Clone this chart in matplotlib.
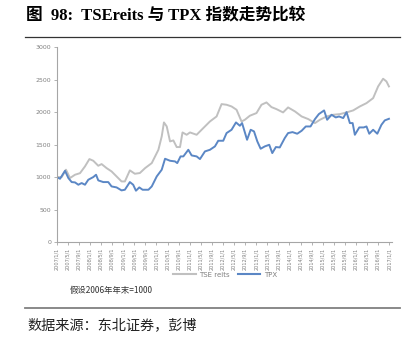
import matplotlib
matplotlib.use("Agg")
import matplotlib.pyplot as plt
from matplotlib.lines import Line2D

# month offsets from 2007/1/1 and index levels (2006 year end = 1000)
tse_month = [0, 1.8, 3.35, 4.8, 6.6, 8.4, 10.2, 11.8, 13.2, 15.0, 16.2, 18.0, 19.8,
             21.6, 23.4, 24.6, 26.4, 28.2, 30.0, 31.9, 34.3, 36.7, 37.9, 38.7, 39.7,
             40.9, 42.1, 43.3, 44.5, 45.4, 46.9, 48.1, 50.5, 52.9, 55.3, 57.7, 59.5,
             61.3, 63.1, 64.9, 66.7, 67.9, 69.7, 72.1, 73.9, 75.7, 77.5, 79.3, 81.7,
             83.5, 86.0, 88.4, 90.8, 93.2, 95.0, 97.4, 99.8, 102.2, 104.6, 107.0,
             109.4, 111.8, 114.2, 116.0, 117.8, 119.0, 119.9]
tse_val = [1000, 1000, 1113, 985, 1036, 1060, 1164, 1277, 1251, 1174, 1200, 1138, 1087,
           1010, 933, 933, 1103, 1051, 1062, 1138, 1215, 1420, 1626, 1841, 1780,
           1549, 1564, 1462, 1462, 1687, 1651, 1687, 1651, 1754, 1856, 1933, 2123,
           2113, 2087, 2036, 1856, 1882, 1944, 1985, 2113, 2149, 2077, 2046, 1995,
           2072, 2010, 1933, 1892, 1831, 1882, 1933, 1959, 1969, 1995, 2026,
           2087, 2138, 2215, 2395, 2513, 2472, 2395]

tpx_month = [0, 1.2, 3.0, 4.2, 5.4, 6.6, 7.8, 9.0, 10.2, 11.4, 13.2, 14.2, 15.0, 16.8,
             18.6, 19.8, 21.6, 23.4, 24.6, 26.4, 27.6, 28.6, 29.8, 31.0, 33.1, 34.3,
             36.1, 37.9, 39.1, 40.9, 42.7, 43.5, 44.7, 45.7, 47.5, 48.7, 50.5, 51.7,
             53.5, 55.3, 57.1, 58.3, 60.1, 61.3, 63.1, 64.7, 66.1, 66.9, 68.7, 70.0,
             71.2, 72.4, 73.6, 75.1, 76.7, 77.8, 79.1, 80.5, 82.3, 83.5, 85.1, 86.8,
             88.4, 89.9, 91.6, 93.2, 94.6, 96.5, 97.6, 99.2, 100.7, 101.9, 103.4,
             104.6, 105.8, 106.8, 107.6, 109.2, 110.8, 111.8, 112.8, 114.2, 115.7,
             117.2, 118.4, 119.9]
tpx_val = [1000, 974, 1097, 985, 923, 918, 882, 908, 882, 959, 1000, 1036, 949, 923,
           923, 856, 841, 795, 805, 923, 882, 790, 841, 805, 805, 856,
           1010, 1113, 1282, 1251, 1241, 1215, 1318, 1318, 1420, 1333, 1318, 1277,
           1395, 1420, 1472, 1559, 1559, 1677, 1728, 1841, 1790, 1831, 1574, 1728,
           1703, 1549, 1436, 1472, 1497, 1369, 1462, 1456, 1600, 1677, 1692, 1667,
           1713, 1779, 1779, 1892, 1969, 2026, 1882, 1959, 1918, 1933, 1908,
           2000, 1831, 1831, 1651, 1764, 1764, 1779, 1667, 1728, 1667,
           1805, 1872, 1897]

tick_labels = [f"{2007 + i // 3}/{1 + 4 * (i % 3)}/1" for i in range(31)]
y_ticks = [0, 500, 1000, 1500, 2000, 2500, 3000]

GRAY = "#c0c0c0"
BLUE = "#5b87c5"
AXIS = "#a6a6a6"
CJK = ["Noto Sans CJK SC", "DejaVu Sans"]

fig = plt.figure(figsize=(4.17, 3.39), dpi=100)
ax = fig.add_axes([0.136, 0.286, 0.804, 0.575])

ax.plot(tse_month, tse_val, color=GRAY, lw=1.4, solid_joinstyle="round")
ax.plot(tpx_month, tpx_val, color=BLUE, lw=1.4, solid_joinstyle="round")

ax.set_xlim(0, 121)
ax.set_ylim(0, 3000)
ax.set_yticks(y_ticks)
ax.set_yticklabels([str(v) for v in y_ticks], fontsize=4.5, color="#808080")
ax.set_xticks(range(0, 121, 4))
ax.set_xticklabels(tick_labels, rotation=90, fontsize=3.6, color="#808080")
ax.tick_params(axis="both", length=2, width=0.6, color=AXIS, pad=2)
for side in ("top", "right"):
    ax.spines[side].set_visible(False)
for side in ("left", "bottom"):
    ax.spines[side].set_color(AXIS)
    ax.spines[side].set_linewidth(0.8)

handles = [Line2D([], [], color=GRAY, lw=1.5), Line2D([], [], color=BLUE, lw=1.5)]
leg = fig.legend(handles, ["TSE reits", "TPX"], loc="center", bbox_to_anchor=(0.54, 0.189),
                 ncol=2, frameon=False, fontsize=5, handlelength=3.2, columnspacing=1.2,
                 handletextpad=0.5)
for t in leg.get_texts():
    t.set_color("#808080")

fig.text(0.168, 0.142, "假设2006年年末=1000", family=CJK, fontsize=6, va="center",
         color="#333333")

fig.text(0.062, 0.955, "图  98:  TSEreits 与 TPX 指数走势比较",
         family=["Liberation Serif", "Noto Sans CJK SC"], fontweight="bold",
         fontsize=12, va="center")
fig.add_artist(Line2D([0.06, 0.96], [0.891, 0.891], color="#333333", lw=0.9))
fig.add_artist(Line2D([0.06, 0.96], [0.091, 0.091], color="#808080", lw=1.3))
fig.text(0.065, 0.042, "数据来源：东北证券，彭博", family=CJK, fontsize=10.2, va="center",
         color="#222222", fontweight="light")

fig.savefig("out.png", dpi=100)
